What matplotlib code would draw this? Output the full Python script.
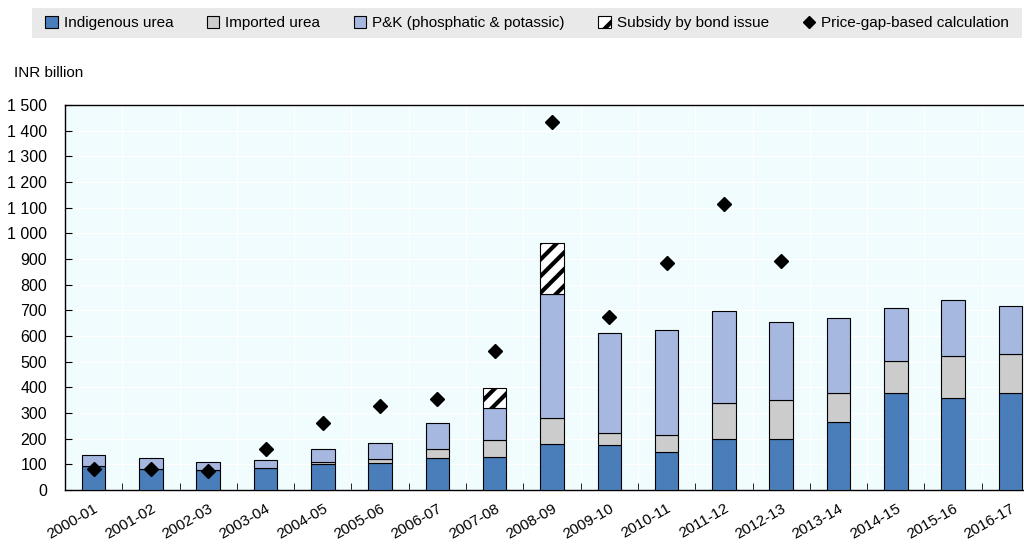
import numpy as np
import matplotlib.pyplot as plt
from matplotlib.patches import Rectangle, Patch
from matplotlib.lines import Line2D
from matplotlib.ticker import FuncFormatter, FixedLocator

plt.rcParams['font.family'] = ['Liberation Sans', 'DejaVu Sans']
plt.rcParams['hatch.linewidth'] = 3.0

# Data (INR billion)
years = ["2000-01", "2001-02", "2002-03", "2003-04", "2004-05", "2005-06", "2006-07",
         "2007-08", "2008-09", "2009-10", "2010-11", "2011-12", "2012-13", "2013-14",
         "2014-15", "2015-16", "2016-17"]
indigenous = [93, 80, 78, 84, 100, 106, 123, 129, 178, 174, 149, 200, 199, 263, 379, 358, 377]
imported = [0, 0, 0, 0, 8, 13, 35, 66, 101, 47, 65, 138, 150, 114, 122, 163, 152]
pk = [44, 46, 32, 33, 50, 65, 103, 126, 483, 389, 408, 360, 304, 293, 207, 218, 189]
bond = [0, 0, 0, 0, 0, 0, 0, 78, 201, 0, 0, 0, 0, 0, 0, 0, 0]
price_gap = [80, 82, 74, 158, 260, 328, 353, 543, 1434, 673, 886, 1114, 891,
             np.nan, np.nan, np.nan, np.nan]

c_ind = '#4a7ebb'
c_imp = '#cccccc'
c_pk = '#a6b7e0'

fig = plt.figure(figsize=(10.24, 5.4), dpi=100)
ax = fig.add_axes([65/1024, 50/540, (1039-65)/1024, 385/540])
ax.set_facecolor('#f0fcfd')

x = np.arange(len(years))
w = 0.41
ind = np.array(indigenous)
imp = np.array(imported)
p = np.array(pk)
b = np.array(bond)

ax.bar(x, ind, w, color=c_ind, edgecolor='black', linewidth=0.8, zorder=3)
ax.bar(x, imp, w, bottom=ind, color=c_imp, edgecolor='black', linewidth=0.8, zorder=3)
ax.bar(x, p, w, bottom=ind+imp, color=c_pk, edgecolor='black', linewidth=0.8, zorder=3)
mask = b > 0
ax.bar(x[mask], b[mask], w, bottom=(ind+imp+p)[mask], color='white', edgecolor='black',
       hatch='//', linewidth=0.8, zorder=3)
ax.plot(x, price_gap, 'D', color='black', markersize=7, zorder=4, linestyle='none')

ax.set_xlim(-0.5, len(years) - 0.5)
ax.set_ylim(0, 1500)
ax.yaxis.set_major_locator(FixedLocator(np.arange(0, 1501, 100)))
ax.yaxis.set_major_formatter(FuncFormatter(lambda v, pos: f"{int(v):,}".replace(",", " ")))
ax.set_xticks(x)
ax.set_xticklabels(years, rotation=30, ha='right', rotation_mode='anchor')
ax.xaxis.set_minor_locator(FixedLocator(np.arange(-0.5, len(years), 1.0)))
ax.tick_params(axis='x', which='major', length=0, labelsize=11, pad=8)
ax.tick_params(axis='x', which='minor', direction='in', length=5)
ax.tick_params(axis='y', direction='in', length=5, labelsize=11.5, pad=13)
ax.grid(True, axis='y', color='white', linewidth=1, zorder=0)
ax.grid(True, axis='x', which='minor', color='white', linewidth=1, zorder=0)
for s in ax.spines.values():
    s.set_color('black')
    s.set_linewidth(1)

fig.text(14/1024, 1 - 73/540, "INR billion", fontsize=11, va='center', ha='left')

# Legend band
fig.patches.append(Rectangle((32/1024, 1 - 38/540), (1022-32)/1024, 30/540,
                             transform=fig.transFigure, facecolor='#e9e9e9',
                             edgecolor='none', zorder=0))
handles = [
    Patch(facecolor=c_ind, edgecolor='black', linewidth=0.8),
    Patch(facecolor=c_imp, edgecolor='black', linewidth=0.8),
    Patch(facecolor=c_pk, edgecolor='black', linewidth=0.8),
    Patch(facecolor='white', edgecolor='black', hatch='/', linewidth=0.8),
    Line2D([], [], marker='D', color='black', linestyle='none', markersize=6),
]
labels = ["Indigenous urea", "Imported urea", "P&K (phosphatic & potassic)",
          "Subsidy by bond issue", "Price-gap-based calculation"]
fig.legend(handles, labels, loc='center', bbox_to_anchor=(527/1024, 1 - 23/540),
           ncol=5, frameon=False, fontsize=11, handlelength=0.8, handleheight=0.8,
           handletextpad=0.4, columnspacing=2.2)

fig.savefig("out.png", dpi=100)
